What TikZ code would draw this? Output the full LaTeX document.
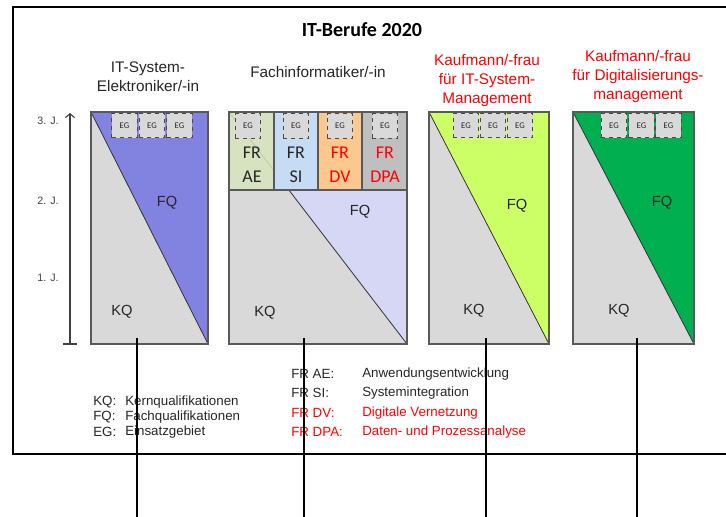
\documentclass[tikz,border=0pt]{standalone}
\usepackage{fontspec}
\setmainfont{Liberation Sans}
\newfontfamily\calibri{Carlito}
\usetikzlibrary{arrows.meta}
\definecolor{kqgray}{HTML}{D9D9D9}
\definecolor{fqviolet}{HTML}{8282E0}
\definecolor{fqlavender}{HTML}{D6D6F5}
\definecolor{fqlime}{HTML}{CCFF66}
\definecolor{fqgreen}{HTML}{00B050}
\definecolor{aegreen}{HTML}{D7E4BD}
\definecolor{siblue}{HTML}{C6DCF5}
\definecolor{dvorange}{HTML}{FCC88E}
\definecolor{dpagray}{HTML}{BFBFBF}
\definecolor{framegray}{HTML}{595959}
\definecolor{txtgray}{HTML}{262626}
\begin{document}
\begin{tikzpicture}[x=0.75pt,y=-0.75pt,
    every node/.style={text=txtgray},
    box/.style={draw=framegray,line width=0.9pt},
    cut/.style={draw=black!80,line width=0.6pt},
    egbox/.style={draw=black!70,dashed,fill=kqgray,line width=0.6pt,
        minimum width=19pt,minimum height=18.5pt,inner sep=0pt,
        font=\calibri\fontsize{6.5}{7}\selectfont},
    qlabel/.style={font=\fontsize{11}{13}\selectfont},
    frlabel/.style={align=center,font=\calibri\fontsize{13.5}{18}\selectfont},
    boxtitle/.style={align=center,font=\fontsize{11.5}{14.25}\selectfont},
    legend/.style={anchor=west,inner sep=0pt,font=\fontsize{10}{12}\selectfont},
    year/.style={text=black!75,font=\fontsize{8}{9}\selectfont},
    link/.style={line width=1.1pt}]
    \useasboundingbox (0,0) rectangle (726,517);
    %% frame
    \draw[line width=1.1pt] (726,7) -- (13,7) -- (13,454) -- (726,454);
    %% titles
    \node[font=\calibri\bfseries\fontsize{15}{18}\selectfont,text=black] (berufe) at (362,30) {IT-Berufe 2020};
    \node[boxtitle] (t-elk) at (148,77) {IT-System-\\Elektroniker/-in};
    \node[boxtitle] (t-fi) at (318,72) {Fachinformatiker/-in};
    \node[boxtitle,text=red] (t-kits) at (487,81) {Kaufmann/-frau\\f\"ur IT-System-\\Management};
    \node[boxtitle,text=red] (t-kdm) at (638,77) {Kaufmann/-frau\\f\"ur Digitalisierungs-\\management};
    %% years
    \coordinate (axis-bot) at (70,344);
    \coordinate (axis-top) at (70,113);
    \draw[-{Straight Barb[length=3pt,width=7pt]},black!75,line width=0.8pt] (axis-bot) -- (axis-top);
    \draw[black!75,line width=0.8pt] (63,344) -- (77,344);
    \node[year] (j3) at (48,121) {3. J.};
    \node[year] (j2) at (48,201) {2. J.};
    \node[year] (j1) at (48,278) {1. J.};
    %% IT-System-Elektroniker
    \coordinate (elk-nw) at (91,112);
    \coordinate (elk-se) at (208,344);
    \fill[kqgray] (elk-nw) rectangle (elk-se);
    \fill[fqviolet] (elk-nw) -| (elk-se) -- cycle;
    \draw[cut] (elk-nw) -- (elk-se);
    \draw[box] (elk-nw) rectangle (elk-se);
    \foreach \x [count=\i] in {124.5,152,179.5}
        \node[egbox] (elk-eg\i) at (\x,125.5) {EG};
    \node[qlabel] (elk-fq) at (167,203) {FQ};
    \node[qlabel] (elk-kq) at (122,312) {KQ};
    %% Fachinformatiker
    \coordinate (fi-nw) at (229,112);
    \coordinate (fi-se) at (407,344);
    \fill[kqgray] (fi-nw) rectangle (fi-se);
    \fill[fqlavender] (289,190) -- (407,190) -- (fi-se) -- cycle;
    \draw[cut] (fi-nw) -- (fi-se);
    \fill[aegreen,fill opacity=0.85] (229,112) rectangle (274,190);
    \fill[siblue] (274,112) rectangle (318,190);
    \fill[dvorange] (318,112) rectangle (362,190);
    \fill[dpagray] (362,112) rectangle (407,190);
    \draw[box] (229,190) -- (407,190);
    \foreach \x in {274,318,362}
        \draw[box] (\x,112) -- (\x,190);
    \draw[box] (fi-nw) rectangle (fi-se);
    \foreach \x [count=\i] in {248,296,340,385}
        \node[egbox] (fi-eg\i) at (\x,126) {EG};
    \node[frlabel] (fr-ae) at (252,165) {FR\\AE};
    \node[frlabel] (fr-si) at (296,165) {FR\\SI};
    \node[frlabel,text=red] (fr-dv) at (340,165) {FR\\DV};
    \node[frlabel,text=red] (fr-dpa) at (385,165) {FR\\DPA};
    \node[qlabel] (fi-fq) at (360,212) {FQ};
    \node[qlabel] (fi-kq) at (265,313) {KQ};
    %% Kaufmann IT-System-Management
    \coordinate (kits-nw) at (429,112);
    \coordinate (kits-se) at (549,344);
    \fill[kqgray] (kits-nw) rectangle (kits-se);
    \fill[fqlime] (kits-nw) -| (kits-se) -- cycle;
    \draw[cut] (kits-nw) -- (kits-se);
    \draw[box] (kits-nw) rectangle (kits-se);
    \foreach \x [count=\i] in {466,493,520}
        \node[egbox] (kits-eg\i) at (\x,125.5) {EG};
    \node[qlabel] (kits-fq) at (517,206) {FQ};
    \node[qlabel] (kits-kq) at (474,311) {KQ};
    %% Kaufmann Digitalisierungsmanagement
    \coordinate (kdm-nw) at (573,112);
    \coordinate (kdm-se) at (694,344);
    \fill[kqgray] (kdm-nw) rectangle (kdm-se);
    \fill[fqgreen] (kdm-nw) -| (kdm-se) -- cycle;
    \draw[cut] (kdm-nw) -- (kdm-se);
    \draw[box] (kdm-nw) rectangle (kdm-se);
    \foreach \x [count=\i] in {614,641.5,668.5}
        \node[egbox] (kdm-eg\i) at (\x,125.5) {EG};
    \node[qlabel] (kdm-fq) at (662,203) {FQ};
    \node[qlabel] (kdm-kq) at (619,311) {KQ};
    %% legend
    \node[legend] (lg-kq) at (93,402) {KQ:};
    \node[legend] (lg-fq) at (93,417) {FQ:};
    \node[legend] (lg-eg) at (93,432) {EG:};
    \node[legend] (lg-kq-t) at (125,402) {Kernqualifikationen};
    \node[legend] (lg-fq-t) at (125,417) {Fachqualifikationen};
    \node[legend] (lg-eg-t) at (125,432) {Einsatzgebiet};
    \node[legend] (lg-ae) at (291,374) {FR AE:};
    \node[legend] (lg-si) at (291,393) {FR SI:};
    \node[legend,text=red] (lg-dv) at (291,413) {FR DV:};
    \node[legend,text=red] (lg-dpa) at (291,432) {FR DPA:};
    \node[legend] (lg-ae-t) at (362,374) {Anwendungsentwicklung};
    \node[legend] (lg-si-t) at (362,393) {Systemintegration};
    \node[legend,text=red] (lg-dv-t) at (362,413) {Digitale Vernetzung};
    \node[legend,text=red] (lg-dpa-t) at (362,432) {Daten- und Prozessanalyse};
    %% links
    \foreach \x/\name in {137/elk,304/fi,486/kits,637/kdm}{
        \coordinate (\name-link) at (\x,338);
        \coordinate (\name-end) at (\x,517);
        \draw[link] (\name-link) -- (\name-end);
    }
\end{tikzpicture}
\end{document}
